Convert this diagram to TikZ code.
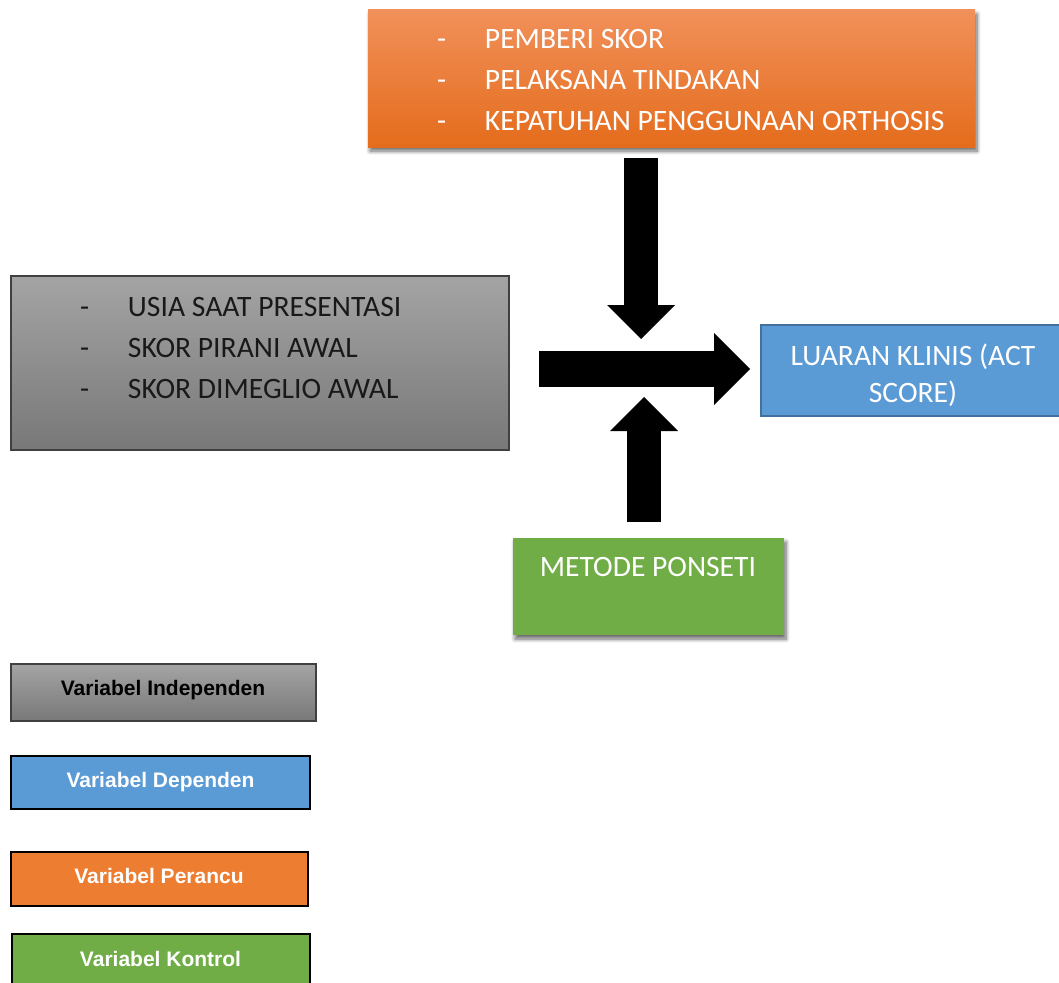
\documentclass[tikz,border=0pt]{standalone}
\usepackage{fontspec}
\setmainfont{Carlito}
\newfontfamily\legendfont{Liberation Sans}
\usetikzlibrary{arrows.meta,shadows.blur}
\definecolor{perancutop}{HTML}{F1905A}
\definecolor{perancubot}{HTML}{E46C1C}
\definecolor{indeptop}{HTML}{A4A4A4}
\definecolor{indepbot}{HTML}{787878}
\definecolor{depfill}{HTML}{5B9BD5}
\definecolor{depline}{HTML}{41719C}
\definecolor{kontrolfill}{HTML}{70AD47}
\definecolor{perancufill}{HTML}{ED7D31}
\newcommand\listdash{\makebox[48pt][l]{-}}
\tikzset{
  listtext/.style={font=\fontsize{29.6}{41}\selectfont, align=left, anchor=west},
  legendtext/.style={font=\legendfont\bfseries\fontsize{21}{25}\selectfont, anchor=base},
  blockarrow/.style={line width=#1, -{Triangle[length=#1, width=2*#1, line width=0pt]}},
  softshadow/.style={blur shadow={shadow xshift=2pt, shadow yshift=-4pt, shadow blur radius=4pt, shadow blur steps=8, shadow opacity=60}}
}
\begin{document}
\begin{tikzpicture}[x=1pt, y=-1pt, line join=miter, every node/.style={outer sep=0pt, inner sep=0pt}]
    \useasboundingbox (0,0) rectangle (1059,982);
    \clip (0,0) rectangle (1059,982);

    \node[softshadow, top color=perancutop, bottom color=perancubot, minimum width=607pt, minimum height=137pt] (perancu) at (671.5,78.5) {};
    \node[listtext, text=white] (perancutext) at (437,80) {\listdash PEMBERI SKOR\\\listdash PELAKSANA TINDAKAN\\\listdash KEPATUHAN PENGGUNAAN ORTHOSIS};

    \node[draw=black!75, line width=1.2pt, top color=indeptop, bottom color=indepbot, minimum width=498pt, minimum height=174pt] (indep) at (260,363) {};
    \node[listtext, text=black!90] (indeptext) at (80,348) {\listdash USIA SAAT PRESENTASI\\\listdash SKOR PIRANI AWAL\\\listdash SKOR DIMEGLIO AWAL};

    \node[draw=depline, line width=2pt, fill=depfill, minimum width=304pt, minimum height=91pt] (dep) at (913,370.5) {};
    \node[font=\fontsize{29.6}{37}\selectfont, align=center, text=white] (deptext) at (913,375) {LUARAN KLINIS (ACT\\SCORE)};

    \node[softshadow, fill=kontrolfill, minimum width=271pt, minimum height=97pt] (kontrol) at (648.5,586.5) {};
    \node[font=\fontsize{29.6}{41}\selectfont, text=white, anchor=base] (kontroltext) at (648,576) {METODE PONSETI};

    \coordinate (downstart) at (641,158);
    \coordinate (downtip) at (641,339);
    \coordinate (upstart) at (644,522);
    \coordinate (uptip) at (644,397);
    \coordinate (rightstart) at (539,369);
    \coordinate (righttip) at (750,369);
    \draw[blockarrow=34pt] (downstart) -- (downtip);
    \draw[blockarrow=34pt] (upstart) -- (uptip);
    \draw[blockarrow=36pt] (rightstart) -- (righttip);

    \node[draw=black!75, line width=1.5pt, top color=indeptop, bottom color=indepbot, minimum width=305pt, minimum height=57pt] (legindep) at (163.5,692.5) {};
    \node[legendtext, text=black] at (163,695) {Variabel Independen};
    \node[draw=black, line width=2.5pt, fill=depfill, minimum width=299pt, minimum height=53pt] (legdep) at (160.5,782.5) {};
    \node[legendtext, text=white] at (160.5,787) {Variabel Dependen};
    \node[draw=black, line width=2.5pt, fill=perancufill, minimum width=297pt, minimum height=54pt] (legperancu) at (159.5,879) {};
    \node[legendtext, text=white] at (159,883) {Variabel Perancu};
    \node[draw=black, line width=2.5pt, fill=kontrolfill, minimum width=298pt, minimum height=60pt] (legkontrol) at (161,964) {};
    \node[legendtext, text=white] at (160.5,966) {Variabel Kontrol};
\end{tikzpicture}
\end{document}
